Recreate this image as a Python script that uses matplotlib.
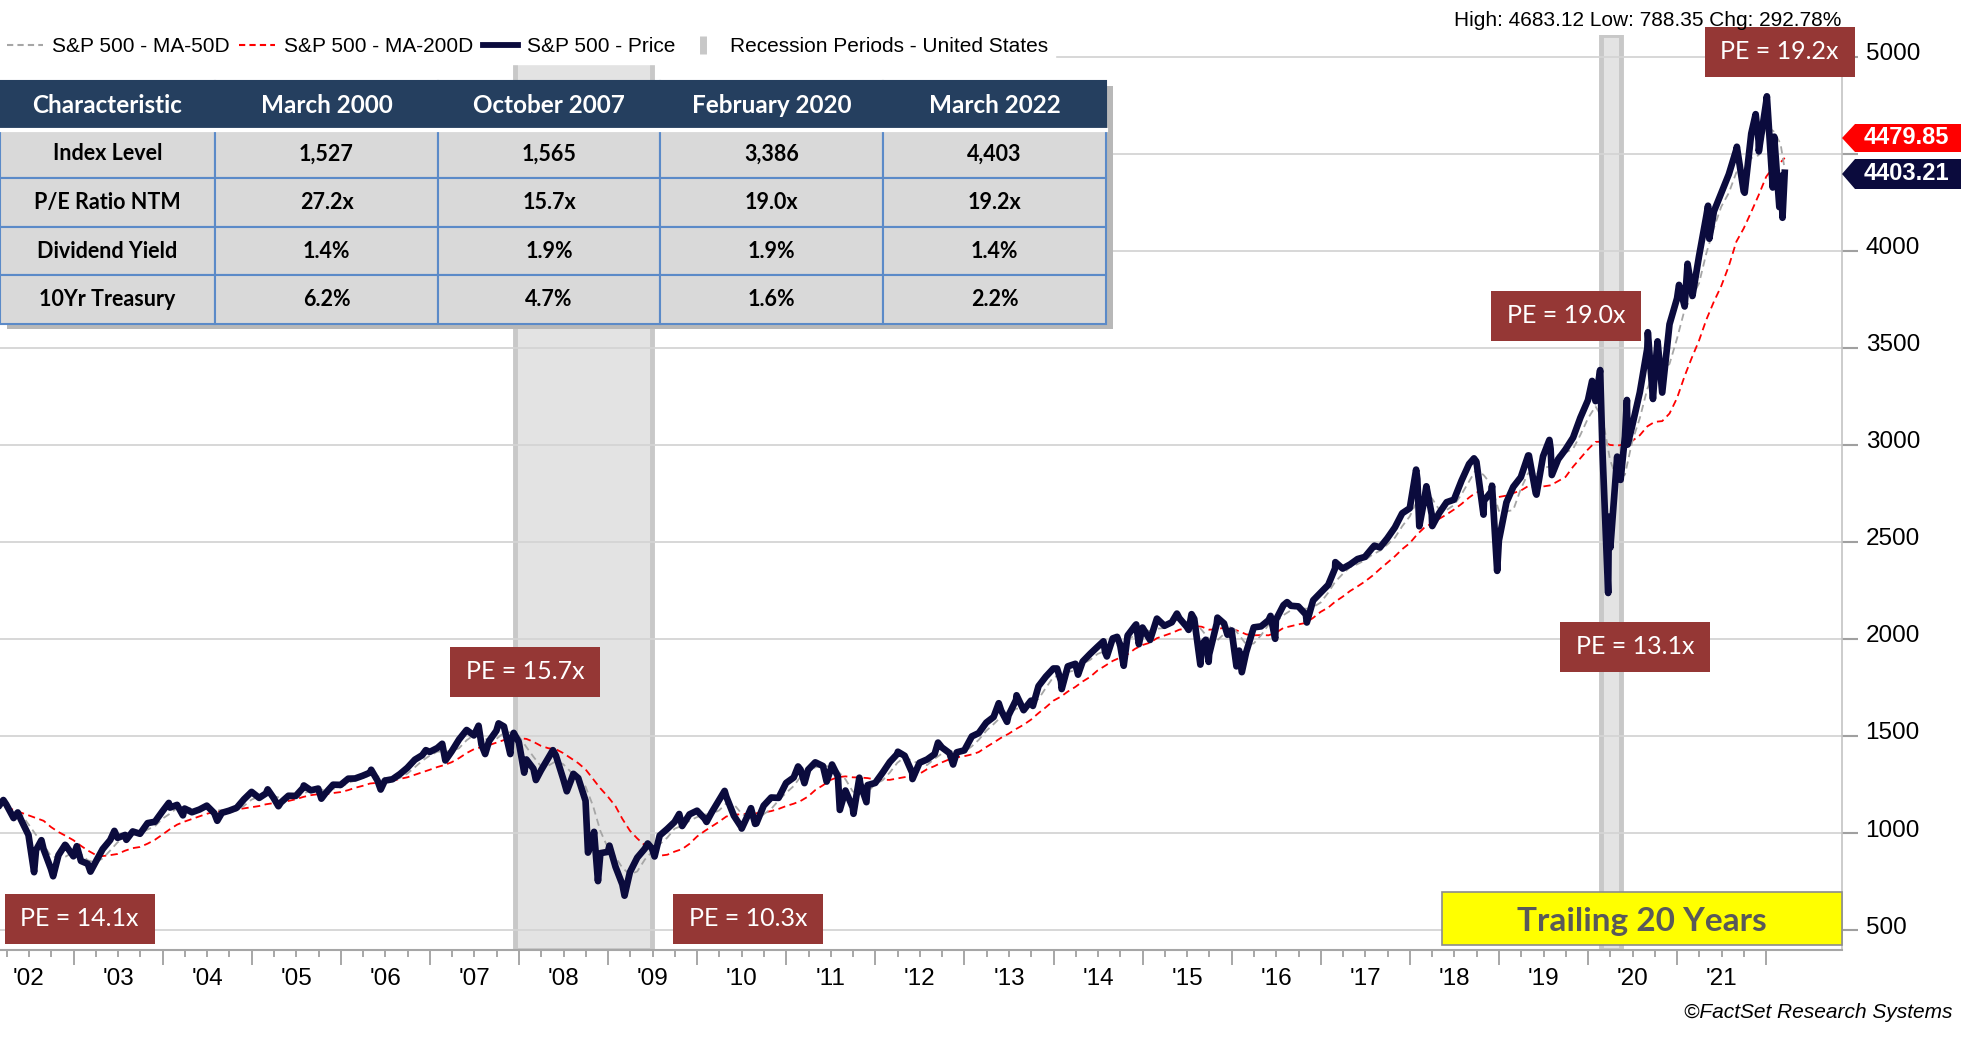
import matplotlib
matplotlib.use('Agg')
import matplotlib.pyplot as plt
import matplotlib.patches as mpatches
import matplotlib.transforms as mtransforms
from matplotlib.lines import Line2D
import numpy as np
import pandas as pd

plt.rcParams['font.family'] = ['Liberation Sans', 'DejaVu Sans']

# ---- data -------------------------------------------------------------
# S&P 500 month-end closes, Mar 2002 .. Feb 2022
close_first_month = '2002-03'
close = [1147, 1077, 1067, 990, 912, 916, 815, 886, 936, 880,
         856, 841, 848, 917, 964, 975, 990, 1008, 996, 1051, 1058, 1112,
         1131, 1145, 1126, 1107, 1121, 1141, 1102, 1104, 1115, 1130, 1174, 1212,
         1181, 1204, 1181, 1157, 1192, 1191, 1234, 1220, 1229, 1207, 1249, 1248,
         1280, 1281, 1295, 1311, 1270, 1270, 1277, 1304, 1336, 1378, 1401, 1418,
         1438, 1407, 1421, 1482, 1531, 1503, 1455, 1474, 1527, 1549, 1481, 1468,
         1379, 1331, 1323, 1386, 1400, 1280, 1267, 1283, 1166, 969, 896, 903,
         826, 735, 798, 873, 919, 919, 987, 1021, 1057, 1036, 1096, 1115,
         1074, 1104, 1169, 1187, 1089, 1031, 1102, 1049, 1141, 1183, 1181, 1258,
         1286, 1327, 1326, 1364, 1345, 1321, 1292, 1219, 1131, 1253, 1247, 1258,
         1312, 1366, 1408, 1398, 1310, 1362, 1379, 1407, 1441, 1412, 1416, 1426,
         1498, 1515, 1569, 1598, 1631, 1606, 1686, 1633, 1682, 1757, 1806, 1848,
         1783, 1859, 1872, 1884, 1924, 1960, 1931, 2003, 1972, 2018, 2068, 2059,
         1995, 2105, 2068, 2086, 2107, 2063, 2104, 1972, 1920, 2079, 2080, 2044,
         1940, 1932, 2060, 2065, 2097, 2099, 2174, 2171, 2168, 2126, 2199, 2239,
         2279, 2364, 2363, 2384, 2412, 2423, 2470, 2472, 2519, 2575, 2648, 2674,
         2824, 2714, 2641, 2648, 2705, 2718, 2816, 2902, 2914, 2712, 2760, 2507,
         2704, 2784, 2834, 2946, 2752, 2942, 2980, 2926, 2977, 3038, 3141, 3231,
         3226, 2954, 2585, 2912, 3044, 3100, 3271, 3500, 3363, 3270, 3622, 3756,
         3714, 3811, 3973, 4181, 4204, 4298, 4395, 4523, 4308, 4605, 4567, 4766,
         4516, 4374]

# 200-day moving average at the same month ends
ma200 = [1134, 1119, 1105, 1091, 1078, 1063, 1031, 1005, 985, 963,
         934, 910, 888, 881, 886, 892, 909, 922, 928, 945, 965, 992,
         1020, 1043, 1059, 1072, 1086, 1099, 1109, 1115, 1120, 1122, 1127, 1133,
         1139, 1148, 1154, 1156, 1165, 1174, 1186, 1195, 1200, 1200, 1206, 1211,
         1221, 1233, 1243, 1255, 1259, 1264, 1269, 1279, 1287, 1300, 1312, 1326,
         1340, 1350, 1365, 1386, 1412, 1432, 1443, 1453, 1466, 1479, 1483, 1489,
         1485, 1470, 1449, 1437, 1432, 1412, 1386, 1360, 1328, 1278, 1230, 1187,
         1138, 1073, 1012, 972, 937, 900, 883, 888, 904, 917, 944, 982,
         1010, 1033, 1058, 1085, 1095, 1096, 1100, 1102, 1106, 1113, 1124, 1139,
         1151, 1165, 1188, 1222, 1246, 1273, 1288, 1292, 1287, 1286, 1283, 1276,
         1274, 1274, 1281, 1288, 1290, 1305, 1329, 1345, 1364, 1380, 1390, 1396,
         1405, 1417, 1443, 1466, 1491, 1511, 1536, 1558, 1584, 1618, 1648, 1682,
         1703, 1729, 1753, 1781, 1805, 1838, 1862, 1887, 1904, 1921, 1949, 1969,
         1981, 2004, 2018, 2031, 2048, 2054, 2067, 2063, 2048, 2050, 2058, 2052,
         2040, 2024, 2019, 2020, 2019, 2032, 2057, 2066, 2075, 2083, 2109, 2140,
         2162, 2192, 2218, 2247, 2271, 2296, 2326, 2361, 2393, 2426, 2463, 2494,
         2540, 2573, 2596, 2619, 2642, 2667, 2696, 2729, 2756, 2759, 2753, 2732,
         2739, 2752, 2765, 2788, 2782, 2786, 2792, 2814, 2835, 2888, 2932, 2977,
         3016, 3017, 3000, 2997, 3003, 3021, 3050, 3096, 3119, 3123, 3162, 3242,
         3355, 3445, 3538, 3646, 3739, 3819, 3922, 4048, 4116, 4201, 4287, 4382,
         4436, 4456]

# 50-day moving average at the same month ends
ma50 = [1128, 1110, 1097, 1045, 990, 939, 881, 872, 879, 901,
        891, 859, 848, 869, 910, 952, 976, 991, 998, 1018, 1035, 1074,
        1100, 1129, 1134, 1126, 1118, 1123, 1121, 1116, 1107, 1116, 1140, 1172,
        1189, 1199, 1189, 1181, 1177, 1180, 1206, 1215, 1228, 1219, 1228, 1235,
        1259, 1270, 1285, 1296, 1292, 1284, 1272, 1284, 1306, 1339, 1372, 1399,
        1419, 1421, 1422, 1437, 1478, 1505, 1496, 1477, 1485, 1517, 1519, 1499,
        1443, 1393, 1344, 1347, 1370, 1355, 1316, 1277, 1239, 1139, 1010, 923,
        875, 821, 786, 802, 863, 904, 942, 976, 1022, 1038, 1063, 1082,
        1095, 1098, 1116, 1153, 1148, 1102, 1074, 1061, 1097, 1124, 1168, 1207,
        1242, 1290, 1313, 1339, 1345, 1343, 1319, 1277, 1214, 1201, 1210, 1253,
        1272, 1312, 1362, 1391, 1372, 1357, 1350, 1383, 1409, 1420, 1423, 1418,
        1447, 1480, 1527, 1561, 1599, 1612, 1641, 1642, 1667, 1691, 1748, 1804,
        1812, 1830, 1838, 1872, 1893, 1923, 1938, 1965, 1969, 1998, 2019, 2048,
        2041, 2053, 2056, 2086, 2087, 2085, 2091, 2046, 1999, 1990, 2026, 2068,
        2021, 1972, 1977, 2019, 2074, 2087, 2123, 2148, 2171, 2155, 2164, 2188,
        2239, 2294, 2335, 2370, 2386, 2406, 2435, 2455, 2487, 2522, 2581, 2632,
        2715, 2737, 2726, 2668, 2665, 2690, 2746, 2812, 2877, 2843, 2795, 2660,
        2657, 2665, 2774, 2855, 2844, 2880, 2891, 2949, 2961, 2980, 3052, 3137,
        3199, 3137, 2922, 2817, 2847, 3019, 3138, 3290, 3378, 3378, 3418, 3549,
        3697, 3760, 3833, 3988, 4119, 4228, 4299, 4405, 4409, 4479, 4493, 4646,
        4616, 4552]

# intra-month highs / lows (closes)
extra_dates = ['2002-03-05', '2002-03-19', '2002-05-17', '2002-07-23', '2002-08-22',
               '2002-10-09', '2002-11-27', '2003-01-14', '2003-03-11', '2003-06-17',
               '2003-08-05', '2004-01-26', '2004-03-24', '2004-08-12', '2005-03-07',
               '2005-04-20', '2005-08-02', '2005-10-13', '2006-05-05', '2006-06-13',
               '2006-12-15', '2007-02-20', '2007-03-05', '2007-07-19', '2007-08-15',
               '2007-10-09', '2007-11-26', '2007-12-10', '2008-01-22', '2008-03-10',
               '2008-05-19', '2008-07-15', '2008-08-11', '2008-10-10', '2008-11-04',
               '2008-11-20', '2009-01-06', '2009-03-09', '2009-06-12', '2009-07-10',
               '2009-10-19', '2010-02-08', '2010-04-23', '2010-07-02', '2010-08-09',
               '2010-08-26', '2011-02-18', '2011-03-16', '2011-04-29', '2011-06-15',
               '2011-07-07', '2011-08-08', '2011-10-03', '2011-10-27', '2011-11-25',
               '2012-04-02', '2012-06-01', '2012-09-14', '2012-11-15', '2013-05-21',
               '2013-06-24', '2013-08-02', '2013-10-08', '2014-01-15', '2014-02-03',
               '2014-04-11', '2014-07-24', '2014-08-07', '2014-09-18', '2014-10-15',
               '2014-12-05', '2014-12-16', '2015-05-21', '2015-07-08', '2015-07-20',
               '2015-08-25', '2015-09-16', '2015-09-28', '2015-11-03', '2015-12-14',
               '2016-01-20', '2016-02-11', '2016-06-08', '2016-06-27', '2016-08-15',
               '2016-11-04', '2017-03-01', '2017-08-08', '2018-01-26', '2018-02-08',
               '2018-03-09', '2018-04-02', '2018-09-20', '2018-10-29', '2018-12-03',
               '2018-12-24', '2019-05-03', '2019-06-03', '2019-07-26', '2019-08-05',
               '2020-01-17', '2020-02-19', '2020-03-23', '2020-03-26', '2020-04-01',
               '2020-04-29', '2020-05-13', '2020-06-08', '2020-06-11', '2020-09-02',
               '2020-09-23', '2020-10-12', '2021-01-08', '2021-02-12', '2021-03-04',
               '2021-05-07', '2021-05-12', '2021-09-02', '2021-10-04', '2021-11-18',
               '2021-12-01', '2022-01-03', '2022-01-27', '2022-02-02', '2022-02-23',
               '2022-03-01', '2022-03-02', '2022-03-08']
extra_close = [1146, 1170, 1106, 798, 963,
               777, 939, 932, 801, 1011,
               965, 1155, 1091, 1063, 1225,
               1138, 1245, 1177, 1326, 1224,
               1427, 1460, 1374, 1553, 1407,
               1565, 1407, 1516, 1311, 1273,
               1427, 1215, 1305, 899, 1006,
               752, 935, 677, 946, 879,
               1098, 1057, 1217, 1023, 1128,
               1047, 1343, 1257, 1364, 1265,
               1353, 1119, 1099, 1285, 1159,
               1419, 1278, 1466, 1353, 1669,
               1573, 1710, 1655, 1848, 1742,
               1816, 1988, 1910, 2011, 1862,
               2075, 1973, 2131, 2047, 2128,
               1868, 1996, 1882, 2110, 2022,
               1859, 1829, 2119, 2001, 2190,
               2085, 2396, 2481, 2873, 2581,
               2787, 2582, 2931, 2641, 2790,
               2351, 2946, 2744, 3026, 2845,
               3330, 3386, 2237, 2630, 2471,
               2940, 2820, 3232, 3002, 3581,
               3237, 3534, 3825, 3934, 3768,
               4233, 4063, 4537, 4300, 4705,
               4513, 4797, 4327, 4589, 4226,
               4306, 4387, 4171]

last_date = '2022-03-17'
last_close = 4403.21
last_ma200 = 4479.85
last_ma50 = 4420

recession_start = ['2007-12-17', '2020-02-24']
recession_end = ['2009-06-28', '2020-05-15']

table_cols = ['Characteristic', 'March 2000', 'October 2007', 'February 2020', 'March 2022']
table_rows = ['Index Level', 'P/E Ratio NTM', 'Dividend Yield', '10Yr Treasury']
index_level = ['1,527', '1,565', '3,386', '4,403']
pe_ntm = ['27.2x', '15.7x', '19.0x', '19.2x']
div_yield = ['1.4%', '1.9%', '1.9%', '1.4%']
treasury_10y = ['6.2%', '4.7%', '1.6%', '2.2%']

pe_labels = ['PE = 14.1x', 'PE = 15.7x', 'PE = 10.3x', 'PE = 19.0x', 'PE = 13.1x', 'PE = 19.2x']

legend_labels = ['S&P 500 - MA-50D', 'S&P 500 - MA-200D', 'S&P 500 - Price',
                 'Recession Periods - United States']
stats_text = 'High: 4683.12 Low: 788.35 Chg: 292.78%'


def to_year(dates):
    d = pd.DatetimeIndex(pd.to_datetime(dates))
    return np.asarray(d.year + (d.dayofyear - 0.5) / np.where(d.is_leap_year, 366, 365))


month_ends = pd.period_range(close_first_month, periods=len(close), freq='M').to_timestamp(how='end')
t_month = to_year(month_ends)
t_last = to_year([last_date])[0]

t_price = np.concatenate([t_month, to_year(extra_dates), [t_last]])
v_price = np.concatenate([close, extra_close, [last_close]])
order = np.argsort(t_price)
t_price, v_price = t_price[order], v_price[order]

t_ma = np.append(t_month, t_last)
v_ma200 = np.append(ma200, last_ma200)
v_ma50 = np.append(ma50, last_ma50)

# ---- figure ------------------------------------------------------------
W, H = 1961, 1037
fig = plt.figure(figsize=(W / 100, H / 100), dpi=100)
ax = fig.add_axes([0, 1 - 950 / H, 1842 / W, (950 - 35) / H])

navy = '#0b0b3d'
ax.set_xlim(2002.175, 2022.85)
ax.set_ylim(397, 5113)

for s, e in zip(to_year(recession_start), to_year(recession_end)):
    ax.axvspan(s, e, facecolor='#e3e3e3', edgecolor='#c8c8c8', lw=3.5, zorder=0.2)

ax.plot(t_ma, v_ma200, color='#ff0000', lw=1.3, dashes=(4, 2.5), zorder=3)
ax.plot(t_ma, v_ma50, color='#a6a6a6', lw=1.3, dashes=(4, 2.5), zorder=3)
ax.plot(t_price, v_price, color=navy, lw=4.8, solid_joinstyle='round', zorder=4)

# axes styling
ax.set_axisbelow(True)
ax.grid(axis='y', color='#d4d4d4', lw=1.3)
for side in ['left', 'top']:
    ax.spines[side].set_visible(False)
ax.spines['right'].set_color('#c4c4c4')
ax.spines['right'].set_linewidth(1.2)
ax.spines['bottom'].set_color('#a6a6a6')
ax.spines['bottom'].set_linewidth(1.5)

ax.yaxis.tick_right()
y_ticks = np.arange(500, 5001, 500)
ax.set_yticks(y_ticks)
# 4500 sits under the value tags
ax.set_yticklabels(['' if v == 4500 else str(v) for v in y_ticks])
ax.tick_params(axis='y', length=11.5, width=1.5, color='#a0a0a0', pad=5.5, labelsize=17.5)
lift = mtransforms.ScaledTranslation(0, 5 / 100, fig.dpi_scale_trans)
for lbl in ax.get_yticklabels():
    lbl.set_transform(lbl.get_transform() + lift)

ax.set_xticks(np.arange(2003, 2023))
ax.tick_params(axis='x', which='major', length=10.8, width=1.3, color='#a0a0a0', labelbottom=False)
q_pos, q_lab = [], []
for y in range(2002, 2022):
    for q in (1, 2, 3):
        q_pos.append(y + q / 4)
        q_lab.append("'%02d" % (y % 100) if q == 2 else '')
ax.set_xticks(q_pos, minor=True)
ax.set_xticklabels(q_lab, minor=True)
ax.tick_params(axis='x', which='minor', length=5, width=1.3, color='#a0a0a0', pad=8, labelsize=17.5)

# PE boxes (centre in years / index points)
pe_cx = [2003.07, 2008.07, 2010.57, 2019.75, 2020.53, 2022.15]
pe_cy = [557, 1830, 557, 3665, 1959, 5026]
bw, bh = 1.684, 258
for lab, cx, cy in zip(pe_labels, pe_cx, pe_cy):
    ax.add_patch(mpatches.Rectangle((cx - bw / 2, cy - bh / 2), bw, bh, facecolor='#953735',
                                    edgecolor='none', zorder=6, clip_on=False))
    ax.text(cx, cy, lab, color='white', ha='center', va='center', fontsize=18,
            family='Lato', zorder=7, clip_on=False)

# Trailing 20 Years box
ax.add_patch(mpatches.Rectangle((2018.36, 423), 2022.85 - 2018.36, 273, facecolor='#ffff00',
                                edgecolor='#8c8c8c', lw=1.2, zorder=6, clip_on=False))
ax.text(2020.6, 545, 'Trailing 20 Years', color='#595959', ha='center', va='center',
        fontsize=24, family='Lato', fontweight='bold', zorder=7)

# table
cell_text = [[r] + list(v) for r, v in zip(table_rows, [index_level, pe_ntm, div_yield, treasury_10y])]
tb_y0, tb_h, tb_w = (950 - 324) / 915, (324 - 81) / 915, 1106 / 1842
ax.add_patch(mpatches.Rectangle((0.004, tb_y0 - 0.006), tb_w, tb_h, transform=ax.transAxes,
                                facecolor='#b8b8b8', edgecolor='none', zorder=7, clip_on=False))
tbl = ax.table(cellText=cell_text, colLabels=table_cols, cellLoc='center',
               colWidths=[215, 223, 222, 223, 223], bbox=[0, tb_y0, tb_w, tb_h], zorder=8)
tbl.auto_set_font_size(False)
for (r, c), cell in tbl.get_celld().items():
    cell.set_linewidth(1.5)
    if r == 0:
        cell.set_facecolor('#253f5f')
        cell.set_edgecolor('#253f5f')
        cell.get_text().set_color('white')
        cell.get_text().set_fontsize(17.5)
    else:
        cell.set_facecolor('#d9d9d9')
        cell.set_edgecolor('#5b8ac8')
        cell.get_text().set_fontsize(15.5)
    cell.get_text().set_fontweight('bold')
    cell.get_text().set_family('Lato')
hdr_y = tb_y0 + tb_h * 4 / 5
ax.plot([0, tb_w], [hdr_y, hdr_y], transform=ax.transAxes, color='white', lw=3,
        zorder=9, clip_on=False)

# legend
handles = [Line2D([], [], color='#a6a6a6', lw=1.5, dashes=(3, 2)),
           Line2D([], [], color='#ff0000', lw=1.5, dashes=(3, 2)),
           Line2D([], [], color=navy, lw=4.2),
           Line2D([], [], color='#c8c8c8', marker='|', markersize=13, markeredgewidth=5, ls='none')]
fig.legend(handles, legend_labels, loc='center left', bbox_to_anchor=(0.0, 1 - 47 / H), ncol=4,
           frameon=True, facecolor='white', edgecolor='white', framealpha=1, fancybox=False,
           fontsize=15, handlelength=1.7, handletextpad=0.45, columnspacing=0.45,
           borderpad=0.35, borderaxespad=0)

fig.text(1841 / W, 1 - 21 / H, stats_text, ha='right', va='center', fontsize=15)
fig.text(1952 / W, 1 - 1012 / H, '\u00a9FactSet Research Systems', ha='right', va='center',
         fontsize=15, style='italic')


# value tags on the right
def tag(yc, half, color, text):
    pts = [(1842, yc), (1855, yc - half), (W, yc - half), (W, yc + half), (1855, yc + half)]
    pts = [(x / W, 1 - y / H) for x, y in pts]
    fig.add_artist(mpatches.Polygon(pts, closed=True, facecolor=color, edgecolor='none',
                                    transform=fig.transFigure))
    fig.text(1906 / W, 1 - yc / H, text, color='white', ha='center', va='center',
             fontsize=17, fontweight='bold')


tag(138, 14, '#ff0000', '%.2f' % last_ma200)
tag(174, 15, navy, '%.2f' % last_close)

fig.savefig('out.png', dpi=100)
